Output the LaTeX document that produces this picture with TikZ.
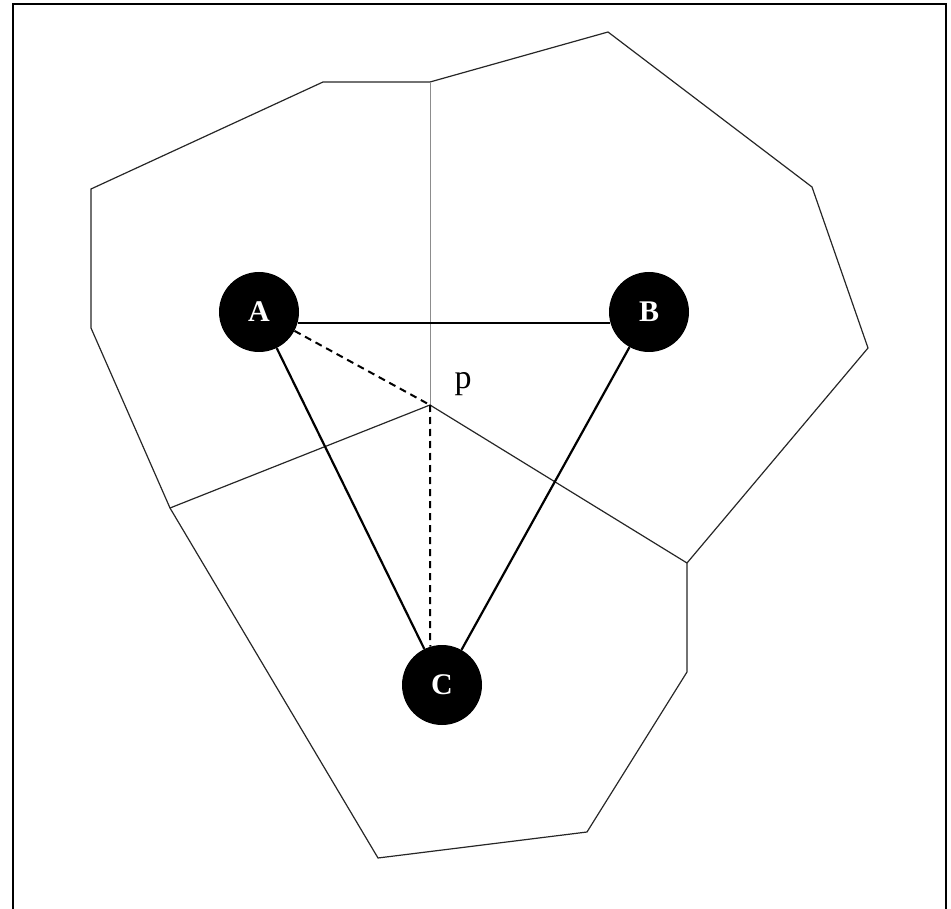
\documentclass[tikz,border=0pt]{standalone}
\usepackage{fontspec}
\setmainfont{Liberation Serif}
\begin{document}
\begin{tikzpicture}[x=1pt,y=-1pt,
  cell/.style={line width=1.2pt,black!85},
  seam/.style={line width=1pt,black!45},
  vertex/.style={circle,fill=black,minimum size=80pt,inner sep=0pt,text=white,font=\fontsize{30}{30}\selectfont\bfseries},
  edge/.style={line width=2.2pt,black},
  link/.style={line width=2pt,black,dash pattern=on 7pt off 5pt}]
\useasboundingbox (0,0) rectangle (951,909);
\draw[line width=2.5pt] (13,909) -- (13,4) -- (946,4) -- (946,909);
% cells
\coordinate (p) at (430,405);
\coordinate (t) at (430,82);
\coordinate (l) at (170,508);
\coordinate (r) at (687,563);
\draw[cell] (91,189) -- (323,82) -- (t) -- (608,32) -- (812,187) -- (868,348) -- (r)
  -- (687,672) -- (587,832) -- (378,858) -- (l) -- (91,328) -- cycle;
\draw[seam] (t) -- (p);
\draw[cell] (l) -- (p) -- (r);
% nodes
\node[vertex] (A) at (259,312) {A};
\node[vertex] (B) at (649,312) {B};
\node[vertex] (C) at (442,685) {C};
\node[font=\fontsize{34}{34}\selectfont] (plabel) at (463,384) {p};
\draw[edge] (A.-16) -- (B.196);
\draw[edge] (A) -- (C);
\draw[edge] (B) -- (C);
\draw[link] (A.-28) -- (p);
\draw[link] (p) -- (C.107);
\end{tikzpicture}
\end{document}
